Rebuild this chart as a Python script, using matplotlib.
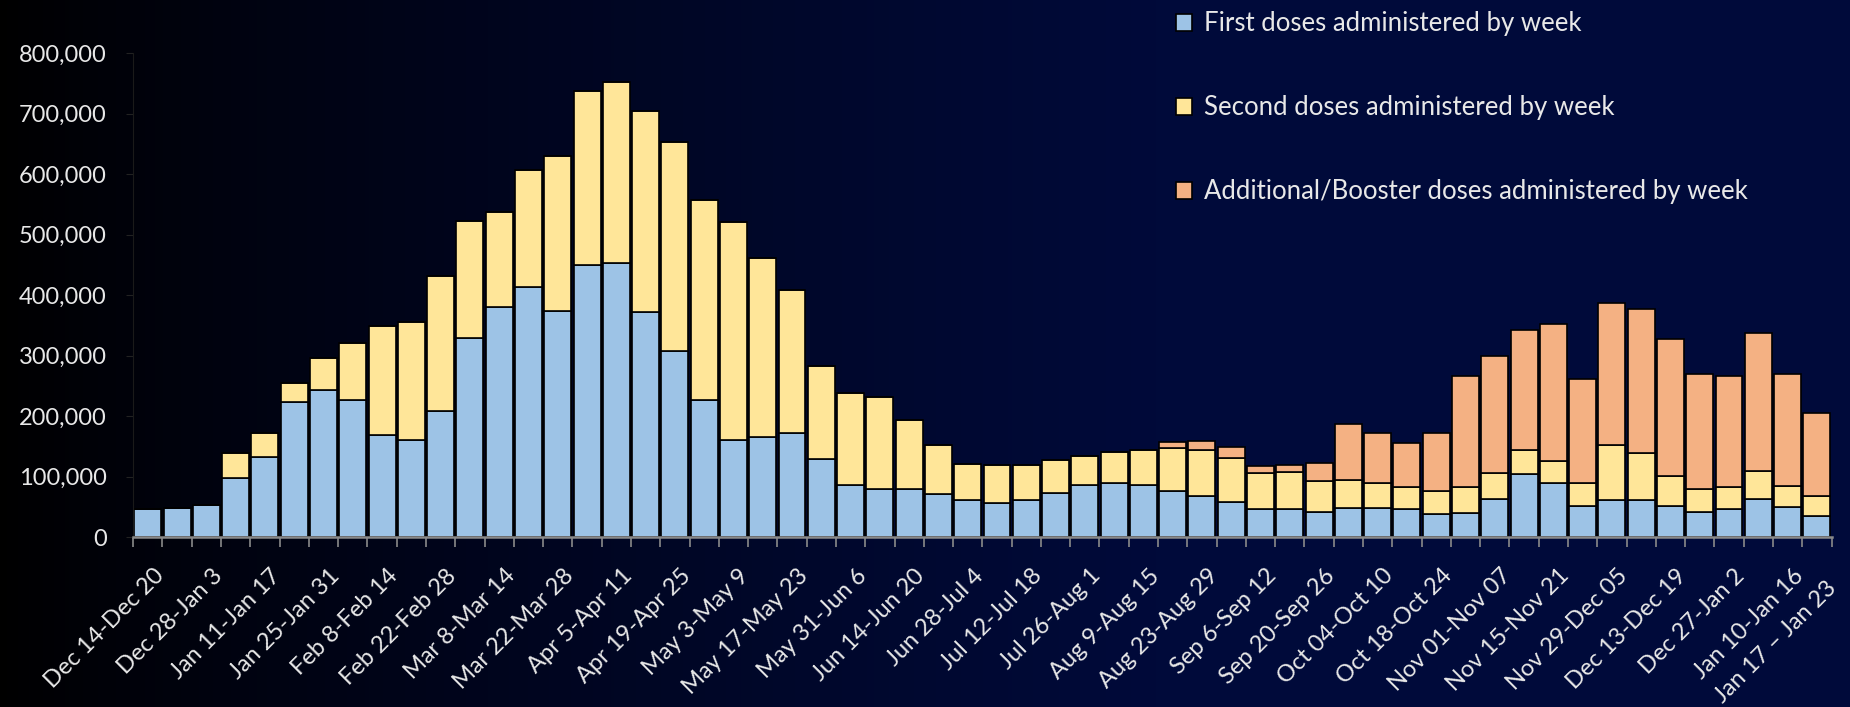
import numpy as np
import matplotlib
matplotlib.use("Agg")
import matplotlib.pyplot as plt
import matplotlib.transforms as mtransforms
from matplotlib.ticker import FuncFormatter, FixedLocator

weeks = [
    "Dec 14-Dec 20", "Dec 21-Dec 27", "Dec 28-Jan 3", "Jan 4-Jan 10", "Jan 11-Jan 17",
    "Jan 18-Jan 24", "Jan 25-Jan 31", "Feb 1-Feb 7", "Feb 8-Feb 14", "Feb 15-Feb 21",
    "Feb 22-Feb 28", "Mar 1-Mar 7", "Mar 8-Mar 14", "Mar 15-Mar 21", "Mar 22-Mar 28",
    "Mar 29-Apr 4", "Apr 5-Apr 11", "Apr 12-Apr 18", "Apr 19-Apr 25", "Apr 26-May 2",
    "May 3-May 9", "May 10-May 16", "May 17-May 23", "May 24-May 30", "May 31-Jun 6",
    "Jun 7-Jun 13", "Jun 14-Jun 20", "Jun 21-Jun 27", "Jun 28-Jul 4", "Jul 5-Jul 11",
    "Jul 12-Jul 18", "Jul 19-Jul 25", "Jul 26-Aug 1", "Aug 2-Aug 8", "Aug 9-Aug 15",
    "Aug 16-Aug 22", "Aug 23-Aug 29", "Aug 30-Sep 5", "Sep 6-Sep 12", "Sep 13-Sep 19",
    "Sep 20-Sep 26", "Sep 27-Oct 03", "Oct 04-Oct 10", "Oct 11-Oct 17", "Oct 18-Oct 24",
    "Oct 25-Oct 31", "Nov 01-Nov 07", "Nov 08-Nov 14", "Nov 15-Nov 21", "Nov 22-Nov 28",
    "Nov 29-Dec 05", "Dec 06-Dec 12", "Dec 13-Dec 19", "Dec 20-Dec 26", "Dec 27-Jan 2",
    "Jan 3-Jan 9", "Jan 10-Jan 16", "Jan 17 \u2013 Jan 23",
]
shown_label_idx = list(range(0, 57, 2)) + [57]

first = [46, 49, 54, 98, 132, 224, 244, 227, 169, 160,
         208, 330, 380, 414, 374, 450, 453, 373, 307, 227,
         160, 166, 173, 129, 87, 80, 80, 72, 62, 56,
         62, 74, 87, 90, 87, 77, 68, 59, 46, 46,
         42, 49, 49, 46, 38, 40, 64, 105, 89, 52,
         62, 62, 52, 42, 46, 64, 50, 36]
second = [0, 0, 0, 42, 40, 31, 52, 94, 180, 195,
          223, 193, 157, 193, 256, 287, 299, 331, 346, 331,
          361, 296, 235, 154, 151, 152, 113, 80, 59, 64,
          58, 53, 48, 51, 58, 70, 76, 72, 60, 62,
          51, 46, 41, 37, 39, 43, 42, 39, 37, 38,
          91, 78, 50, 38, 37, 45, 34, 32]
booster = [0] * 35 + [10, 15, 18, 11, 11,
                      30, 92, 82, 73, 95, 183, 194, 198, 226, 171,
                      234, 237, 226, 190, 184, 228, 186, 138]

first = np.array(first) * 1000
second = np.array(second) * 1000
booster = np.array(booster) * 1000

series_names = ["First doses administered by week",
                "Second doses administered by week",
                "Additional/Booster doses administered by week"]
colors = ["#9DC3E6", "#FFE699", "#F4B183"]

FONT = ["Lato", "DejaVu Sans"]
plt.rcParams["font.family"] = FONT
TXT = "#E8E8E8"

fig = plt.figure(figsize=(18.5, 7.07), dpi=100)

# background gradient
bg = fig.add_axes([0, 0, 1, 1], zorder=-10)
grad = np.linspace(0, 1, 512)
left_c = np.array([0.0, 0.0, 0.0])
right_c = np.array([0 / 255, 10 / 255, 58 / 255])
t = np.clip(grad * 1.6, 0, 1) ** 0.8
img = left_c[None, :] * (1 - t[:, None]) + right_c[None, :] * t[:, None]
bg.imshow(img[None, :, :], aspect="auto", extent=[0, 1, 0, 1])
bg.set_axis_off()

ax = fig.add_axes([0.072, 0.240, 0.918, 0.685])
ax.set_facecolor("none")

x = np.arange(len(weeks))
w = 0.92
ax.bar(x, first, w, color=colors[0], edgecolor="black", linewidth=1.2, label=series_names[0])
ax.bar(x, second, w, bottom=first, color=colors[1], edgecolor="black", linewidth=1.2, label=series_names[1])
ax.bar(x, booster, w, bottom=first + second, color=colors[2], edgecolor="black", linewidth=1.2, label=series_names[2])

ax.set_xlim(-0.5, len(weeks) - 0.5)
ax.set_ylim(0, 800000)
ax.yaxis.set_major_locator(FixedLocator(np.arange(0, 800001, 100000)))
ax.yaxis.set_major_formatter(FuncFormatter(lambda v, p: f"{int(v):,}"))
ax.tick_params(axis="y", colors="#222222", labelcolor=TXT, labelsize=17, length=5, pad=14)

ax.set_xticks(np.arange(-0.5, len(weeks), 1.0), minor=False)
ax.set_xticklabels([])
ax.tick_params(axis="x", which="major", colors="#8a8a8a", length=7, width=1.2)
ax.set_xticks(shown_label_idx, minor=True)
labels = ax.set_xticklabels([weeks[i] for i in shown_label_idx], minor=True, rotation=45,
                            ha="right", va="top", rotation_mode="anchor", color=TXT, fontsize=17)
ax.tick_params(axis="x", which="minor", length=0, pad=20)
# last label sits a bit lower/right in the original
last = labels[-1]
last.set_transform(last.get_transform() + mtransforms.ScaledTranslation(9 / 100, -12 / 100, fig.dpi_scale_trans))
for lab in labels[:-1]:
    lab.set_transform(lab.get_transform() + mtransforms.ScaledTranslation(5 / 100, 0, fig.dpi_scale_trans))

for s in ["top", "right"]:
    ax.spines[s].set_visible(False)
ax.spines["left"].set_color("#1a1a1a")
ax.spines["bottom"].set_color("#8a8a8a")
ax.spines["bottom"].set_linewidth(1.8)

leg = fig.legend(loc="upper left", bbox_to_anchor=(0.623, 1.017), frameon=False,
                 fontsize=18.5, labelcolor=TXT, labelspacing=2.3,
                 handlelength=0.65, handleheight=0.65, handletextpad=0.45)
for h in leg.legend_handles:
    h.set_edgecolor("black")

fig.savefig("out.png", dpi=100)
